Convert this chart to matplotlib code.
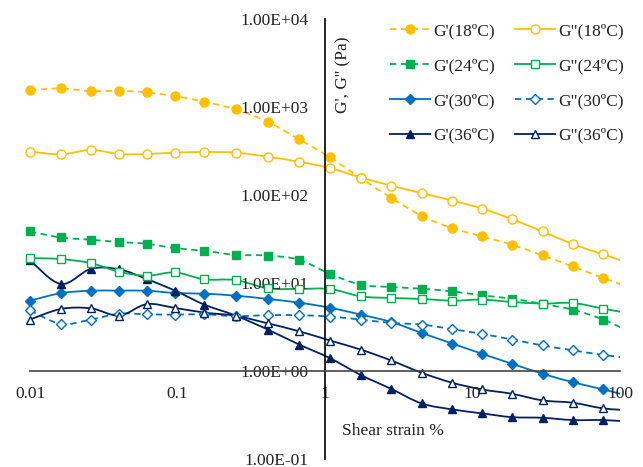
"""Storage and loss moduli vs. shear strain at four temperatures."""

import numpy as np
import matplotlib
matplotlib.use("Agg")
import matplotlib.pyplot as plt
from matplotlib.lines import Line2D
from matplotlib.patches import PathPatch
from matplotlib.path import Path
from matplotlib.ticker import FixedLocator, FixedFormatter, NullLocator

plt.rcParams["font.family"] = ["Liberation Serif", "DejaVu Serif"]

# Shear strain (%) - last point lies just past the right edge of the plot
strain = [0.0100, 0.0162, 0.0259, 0.0403, 0.0618, 0.0962, 0.152, 0.248, 0.409, 0.667,
          1.08, 1.75, 2.80, 4.52, 7.29, 11.6, 18.5, 29.9, 47.8, 77.1, 123]

g1_18 = [1555, 1625, 1514, 1527, 1465, 1331, 1146, 939, 679, 429,
         268, 155, 93.4, 57.9, 42.0, 33.8, 27.2, 20.6, 15.4, 11.4, 8.55]
g2_18 = [312, 290, 325, 292, 292, 303, 308, 303, 272, 239,
         202, 158, 128, 105, 86.4, 70.2, 53.2, 38.5, 27.7, 21.1, 16.3]
g1_24 = [38.5, 32.9, 31.0, 29.2, 27.9, 24.9, 23.2, 20.9, 20.5, 18.4,
         12.7, 9.57, 9.01, 8.61, 8.03, 7.23, 6.64, 5.78, 4.98, 3.84, 2.67]
g2_24 = [19.2, 18.7, 16.8, 13.4, 12.1, 13.2, 11.0, 10.8, 8.69, 8.57,
         8.55, 7.05, 6.76, 6.59, 6.30, 6.47, 6.09, 5.83, 5.93, 5.11, 4.43]
g1_30 = [6.30, 7.66, 8.18, 8.18, 8.18, 7.70, 7.56, 7.18, 6.59, 5.98,
         5.24, 4.37, 3.61, 2.71, 2.05, 1.57, 1.21, 0.93, 0.746, 0.617, 0.505]
g2_30 = [4.89, 3.43, 3.84, 4.49, 4.41, 4.37, 4.41, 4.20, 4.31, 4.31,
         4.15, 3.84, 3.52, 3.37, 2.99, 2.64, 2.28, 1.95, 1.72, 1.52, 1.39]
g1_36 = [18.1, 9.74, 14.5, 14.3, 11.1, 8.18, 5.68, 4.26, 2.96, 2.00,
         1.40, 0.90, 0.628, 0.428, 0.366, 0.330, 0.299, 0.294, 0.277, 0.277, 0.264]
g2_36 = [3.84, 5.07, 5.15, 4.26, 5.75, 5.21, 4.61, 4.24, 3.48, 2.83,
         2.22, 1.75, 1.32, 0.955, 0.735, 0.617, 0.551, 0.463, 0.436, 0.376, 0.356]

x_ticks = [0.01, 0.1, 1, 10, 100]
x_tick_labels = ["0.01", "0.1", "1", "10", "100"]
y_ticks = [0.1, 1, 10, 100, 1000, 10000]
y_tick_labels = ["1.00E-01", "1.00E+00", "1.00E+01", "1.00E+02", "1.00E+03", "1.00E+04"]

YELLOW = "#FFC000"
GREEN = "#00B050"
BLUE = "#0070C0"
NAVY = "#002060"
DASH = (0, (3.5, 2.5))

# (label, values, colour, line style, marker, filled, marker size)
series = [
    ("G'(18ºC)", g1_18, YELLOW, DASH, "o", True, 6.5),
    ("G'(24ºC)", g1_24, GREEN, DASH, "s", True, 5.5),
    ("G'(30ºC)", g1_30, BLUE, "-", "D", True, 5.5),
    ("G'(36ºC)", g1_36, NAVY, "-", "^", True, 6),
    ('G"(18ºC)', g2_18, YELLOW, "-", "o", False, 6.5),
    ('G"(24ºC)', g2_24, GREEN, "-", "s", False, 5.5),
    ('G"(30ºC)', g2_30, BLUE, DASH, "D", False, 5.5),
    ('G"(36ºC)', g2_36, NAVY, "-", "^", False, 6),
]


def smooth_path(xs, ys):
    """Catmull-Rom style Bezier through the points, built in log-log space."""
    pts = np.column_stack([np.log10(xs), np.log10(ys)])
    n = len(pts)
    verts = [pts[0]]
    codes = [Path.MOVETO]
    for i in range(n - 1):
        p0 = pts[max(i - 1, 0)]
        p1 = pts[i]
        p2 = pts[i + 1]
        p3 = pts[min(i + 2, n - 1)]
        verts += [p1 + (p2 - p0) / 6, p2 - (p3 - p1) / 6, p2]
        codes += [Path.CURVE4] * 3
    return Path(10 ** np.array(verts), codes)


fig = plt.figure(figsize=(6.43, 4.67), dpi=100)
ax = fig.add_axes([30 / 643, 1 - 459 / 467, 590 / 643, 440 / 467])
ax.set_xscale("log")
ax.set_yscale("log")
ax.set_xlim(0.01, 100)
ax.set_ylim(0.1, 10000)

handles = []
for label, values, color, ls, marker, filled, ms in series:
    face = color if filled else "white"
    ax.add_patch(PathPatch(smooth_path(strain, values), fill=False,
                           edgecolor=color, linestyle=ls, linewidth=1.3))
    # markers only for points inside the plotted range
    ax.plot(strain[:-1], values[:-1], linestyle="none", marker=marker, markersize=ms,
            markerfacecolor=face, markeredgecolor=color, markeredgewidth=1.0,
            clip_on=False)
    handles.append(Line2D([], [], color=color, linestyle=ls, linewidth=1.3,
                          marker=marker, markersize=ms, markerfacecolor=face,
                          markeredgecolor=color, markeredgewidth=1.0, label=label))

for side in ["top", "right"]:
    ax.spines[side].set_visible(False)
ax.spines["left"].set_position(("data", 1))
ax.spines["bottom"].set_position(("data", 1))
ax.spines["left"].set_color("black")
ax.spines["left"].set_linewidth(1.2)
ax.spines["bottom"].set_color("#444444")
ax.spines["bottom"].set_linewidth(1.2)

ax.xaxis.set_major_locator(FixedLocator(x_ticks))
ax.xaxis.set_major_formatter(FixedFormatter(x_tick_labels))
ax.yaxis.set_major_locator(FixedLocator(y_ticks))
ax.yaxis.set_major_formatter(FixedFormatter(y_tick_labels))
ax.xaxis.set_minor_locator(NullLocator())
ax.yaxis.set_minor_locator(NullLocator())
ax.tick_params(axis="x", length=0, pad=11, labelsize=12.5, colors="#222222")
ax.tick_params(axis="y", length=0, pad=12, labelsize=12.5, colors="#222222")
ax.patch.set_visible(False)

ax.text(0.529, 0.064, "Shear strain %", transform=ax.transAxes,
        fontsize=12.5, ha="left", va="center", color="#222222")
ax.text(0.531, 0.873, "G', G'' (Pa)", transform=ax.transAxes, rotation=90,
        fontsize=12.5, ha="center", va="center", color="#222222")

ax.legend(handles=handles, ncol=2, loc="upper left", frameon=False,
          bbox_to_anchor=(390 / 643, 1 - 23 / 467), bbox_transform=fig.transFigure,
          fontsize=12.5, handlelength=2.3, handletextpad=0.2, columnspacing=1.15,
          labelspacing=1.08, borderpad=0, borderaxespad=0, labelcolor="#222222")

fig.savefig("out.png", dpi=100)
